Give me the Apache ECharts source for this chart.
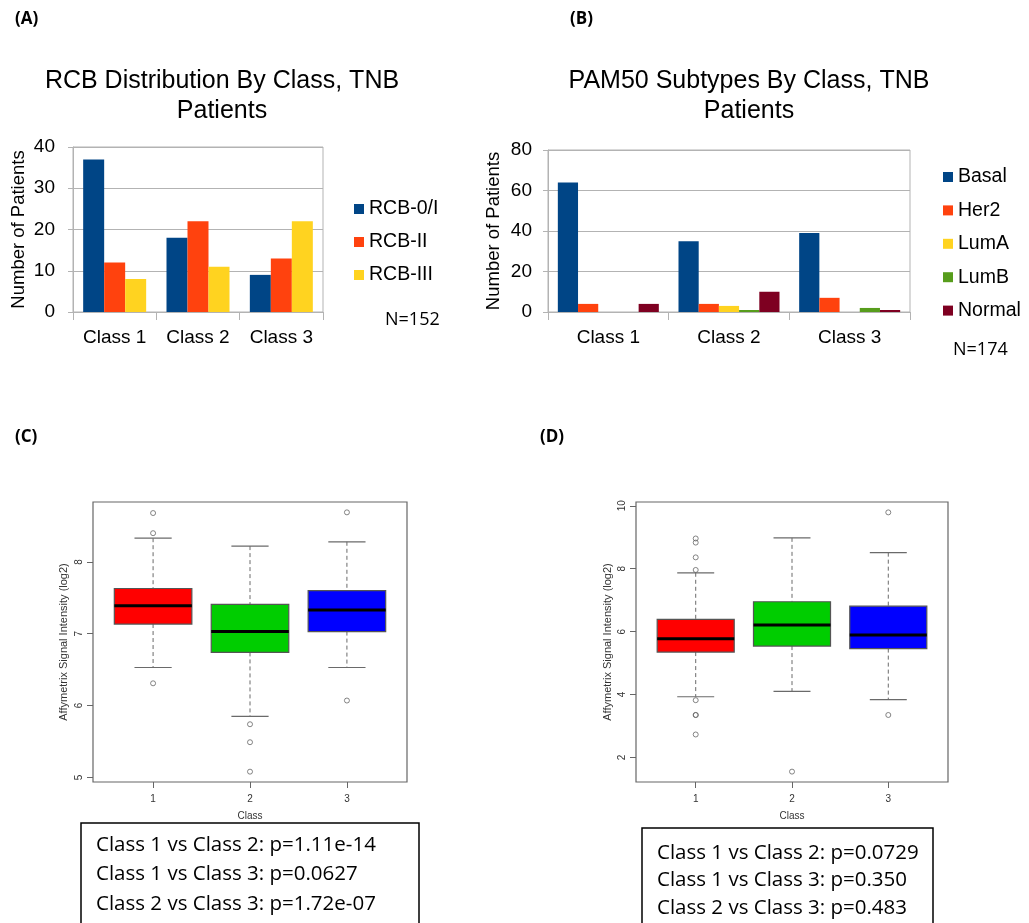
<!DOCTYPE html>
<html>
<head>
<meta charset="utf-8">
<script src="https://cdn.jsdelivr.net/npm/echarts@6/dist/echarts.min.js"></script>
<style>
html,body{margin:0;padding:0;background:#fff;}
#chart{width:1029px;height:923px;}
</style>
</head>
<body>
<div id="chart"></div>
<script>
// ---- Panel A data ----
const aCategories = ['Class 1', 'Class 2', 'Class 3'];
const rcbNames = ['RCB-0/I', 'RCB-II', 'RCB-III'];
const rcb0I = [37, 18, 9];
const rcbII = [12, 22, 13];
const rcbIII = [8, 11, 22];

// ---- Panel B data ----
const bCategories = ['Class 1', 'Class 2', 'Class 3'];
const pamNames = ['Basal', 'Her2', 'LumA', 'LumB', 'Normal'];
const basal = [64, 35, 39];
const her2 = [4, 4, 7];
const lumA = [0, 3, 0];
const lumB = [0, 1, 2];
const normal = [4, 10, 1];

// ---- Panel C data (box plot summary per class) ----
const boxClasses = [1, 2, 3];
const cLower = [6.53, 5.85, 6.53];
const cQ1 = [7.135, 6.74, 7.03];
const cMedian = [7.39, 7.03, 7.33];
const cQ3 = [7.63, 7.41, 7.60];
const cUpper = [8.33, 8.22, 8.28];
const cOutlierClass = [1, 1, 1, 2, 2, 2, 3, 3];
const cOutlierValue = [8.68, 8.40, 6.31, 5.74, 5.49, 5.08, 8.69, 6.07];
const cTicks = [5, 6, 7, 8];

// ---- Panel D data ----
const dLower = [3.93, 4.10, 3.84];
const dQ1 = [5.35, 5.54, 5.46];
const dMedian = [5.77, 6.21, 5.89];
const dQ3 = [6.39, 6.95, 6.81];
const dUpper = [7.87, 8.98, 8.51];
const dOutlierClass = [1, 1, 1, 1, 1, 1, 1, 1, 2, 3, 3];
const dOutlierValue = [8.96, 8.83, 8.36, 7.96, 3.82, 3.35, 3.35, 2.73, 1.55, 9.79, 3.35];
const dTicks = [2, 4, 6, 8, 10];
const boxTicks = [1, 2, 3];

// ---- texts ----
const titleA = 'RCB Distribution By Class, TNB\nPatients';
const titleB = 'PAM50 Subtypes By Class, TNB\nPatients';
const pTextC = ['Class 1 vs Class 2: p=1.11e-14', 'Class 1 vs Class 3: p=0.0627', 'Class 2 vs Class 3: p=1.72e-07'];
const pTextD = ['Class 1 vs Class 2: p=0.0729', 'Class 1 vs Class 3: p=0.350', 'Class 2 vs Class 3: p=0.483'];

const lo = ['#004586', '#ff420e', '#ffd320', '#579d1c', '#7e0021'];
const boxColors = ['#ff0000', '#00cd00', '#0000ff'];
const SANS = '"Liberation Sans", Arial, sans-serif';
const CAL = '"Open Sans", sans-serif';
const RFONT = '"Liberation Sans", Arial, sans-serif';

function zip(cls, vals) { return cls.map((c, i) => [c, vals[i]]); }
function boxData(l, q1, m, q3, u) { return boxClasses.map((c, i) => [c, l[i], q1[i], m[i], q3[i], u[i]]); }

function boxRender(params, api) {
  const x = api.value(0);
  const pl = api.coord([x, api.value(1)]);
  const p1 = api.coord([x, api.value(2)]);
  const pm = api.coord([x, api.value(3)]);
  const p3 = api.coord([x, api.value(4)]);
  const pu = api.coord([x, api.value(5)]);
  const bw = api.size([0.8, 0])[0];
  const cw = bw * 0.48;
  const cx = pl[0];
  const dash = { stroke: '#6a6a6a', lineWidth: 1, lineDash: [4, 3] };
  const solid = { stroke: '#6a6a6a', lineWidth: 1.2 };
  return {
    type: 'group',
    children: [
      { type: 'line', shape: { x1: cx, y1: pu[1], x2: cx, y2: p3[1] }, style: dash },
      { type: 'line', shape: { x1: cx, y1: p1[1], x2: cx, y2: pl[1] }, style: dash },
      { type: 'line', shape: { x1: cx - cw / 2, y1: pu[1], x2: cx + cw / 2, y2: pu[1] }, style: solid },
      { type: 'line', shape: { x1: cx - cw / 2, y1: pl[1], x2: cx + cw / 2, y2: pl[1] }, style: solid },
      { type: 'rect', shape: { x: cx - bw / 2, y: p3[1], width: bw, height: p1[1] - p3[1] },
        style: { fill: boxColors[params.dataIndex], stroke: '#555', lineWidth: 1.2 } },
      { type: 'line', shape: { x1: cx - bw / 2, y1: pm[1], x2: cx + bw / 2, y2: pm[1] },
        style: { stroke: '#000', lineWidth: 3 } }
    ]
  };
}

const barAxisLabel = { color: '#000', fontSize: 19, fontFamily: SANS };
const gray = '#b3b3b3';

function barX(idx, cats) {
  return {
    type: 'category', gridIndex: idx, data: cats,
    axisLine: { lineStyle: { color: gray } },
    axisTick: { show: true, length: 8, lineStyle: { color: gray } },
    axisLabel: Object.assign({ margin: 16 }, barAxisLabel)
  };
}
function barY(idx, max, interval, gap, margin) {
  return {
    type: 'value', gridIndex: idx, min: 0, max: max, interval: interval,
    name: 'Number of Patients', nameLocation: 'middle', nameGap: gap,
    nameTextStyle: { color: '#000', fontSize: 18.5, fontFamily: SANS },
    axisLine: { show: true, lineStyle: { color: gray } },
    axisTick: { show: true, length: 5, lineStyle: { color: gray } },
    axisLabel: Object.assign({ margin: margin }, barAxisLabel),
    splitLine: { show: true, lineStyle: { color: gray } }
  };
}
function boxX(idx) {
  return {
    type: 'value', gridIndex: idx, min: 0.38, max: 3.62,
    name: 'Class', nameLocation: 'middle', nameGap: 29,
    nameTextStyle: { color: '#333', fontSize: 10, fontFamily: RFONT },
    axisLine: { show: false },
    axisTick: { show: true, length: 6, customValues: boxTicks, lineStyle: { color: '#666' } },
    axisLabel: { customValues: boxTicks, margin: 12, color: '#333', fontSize: 10, fontFamily: RFONT },
    splitLine: { show: false }
  };
}
function boxY(idx, min, max, ticks, gap) {
  return {
    type: 'value', gridIndex: idx, min: min, max: max,
    name: 'Affymetrix Signal Intensity (log2)', nameLocation: 'middle', nameGap: gap,
    nameTextStyle: { color: '#333', fontSize: 11, fontFamily: RFONT },
    axisLine: { show: false },
    axisTick: { show: true, length: 6, customValues: ticks, lineStyle: { color: '#666' } },
    axisLabel: { customValues: ticks, rotate: 90, margin: 9, color: '#333', fontSize: 10, fontFamily: RFONT },
    splitLine: { show: false }
  };
}

function txt(x, y, text, font, extra) {
  return { type: 'text', x: x, y: y, silent: true,
    style: Object.assign({ text: text, font: font, fill: '#000', textVerticalAlign: 'middle' }, extra || {}) };
}

const graphics = [
  txt(15, 19, '(A)', 'bold 17px ' + CAL),
  txt(570, 19, '(B)', 'bold 17px ' + CAL),
  txt(15, 437, '(C)', 'bold 17px ' + CAL),
  txt(540, 437, '(D)', 'bold 17px ' + CAL),
  { type: 'text', x: 222, y: 96, silent: true,
    style: { text: titleA, font: '25px ' + SANS, lineHeight: 30, fill: '#000', textAlign: 'center', textVerticalAlign: 'middle' } },
  { type: 'text', x: 749, y: 96, silent: true,
    style: { text: titleB, font: '25px ' + SANS, lineHeight: 30, fill: '#000', textAlign: 'center', textVerticalAlign: 'middle' } },
  txt(385, 320, 'N=152', '18px ' + CAL),
  txt(953, 350, 'N=174', '18px ' + CAL),
  { type: 'rect', silent: true, shape: { x: 81, y: 823, width: 338, height: 130 },
    style: { fill: '#fff', stroke: '#000', lineWidth: 1.5 } },
  { type: 'rect', silent: true, shape: { x: 642, y: 828, width: 291, height: 130 },
    style: { fill: '#fff', stroke: '#000', lineWidth: 1.5 } }
];
pTextC.forEach((t, i) => graphics.push(txt(96, 845 + i * 29.5, t, '20.5px ' + CAL)));
pTextD.forEach((t, i) => graphics.push(txt(657, 853 + i * 27.5, t, '20.5px ' + CAL)));

const chart = echarts.init(document.getElementById('chart'), null, { renderer: 'canvas' });
chart.setOption({
  animation: false,
  backgroundColor: '#fff',
  textStyle: { fontFamily: SANS },
  legend: [
    { data: rcbNames, orient: 'vertical', left: 354, top: 199, padding: 0, icon: 'rect', itemWidth: 10, itemHeight: 10,
      itemGap: 13, textStyle: { fontSize: 19.5, color: '#000', fontFamily: SANS }, selectedMode: false },
    { data: pamNames, orient: 'vertical', left: 943, top: 167, padding: 0, icon: 'rect', itemWidth: 10, itemHeight: 10,
      itemGap: 13.4, textStyle: { fontSize: 19.5, color: '#000', fontFamily: SANS }, selectedMode: false }
  ],
  grid: [
    { left: 73, top: 147, width: 250, height: 165, show: true, borderColor: gray, borderWidth: 1 },
    { left: 548, top: 150, width: 362, height: 162, show: true, borderColor: gray, borderWidth: 1 },
    { left: 93, top: 502, width: 314, height: 280, show: true, borderColor: '#666', borderWidth: 1.2 },
    { left: 636, top: 502, width: 312, height: 280, show: true, borderColor: '#666', borderWidth: 1.2 }
  ],
  xAxis: [barX(0, aCategories), barX(1, bCategories), boxX(2), boxX(3)],
  yAxis: [barY(0, 40, 10, 45, 18), barY(1, 80, 20, 44.5, 16),
          boxY(2, 4.936, 8.834, cTicks, 24), boxY(3, 1.22, 10.12, dTicks, 23)],
  series: [
    { name: rcbNames[0], type: 'bar', xAxisIndex: 0, yAxisIndex: 0, data: rcb0I, itemStyle: { color: lo[0] }, barGap: '0%', barCategoryGap: '24.4%' },
    { name: rcbNames[1], type: 'bar', xAxisIndex: 0, yAxisIndex: 0, data: rcbII, itemStyle: { color: lo[1] }, barGap: '0%', barCategoryGap: '24.4%' },
    { name: rcbNames[2], type: 'bar', xAxisIndex: 0, yAxisIndex: 0, data: rcbIII, itemStyle: { color: lo[2] }, barGap: '0%', barCategoryGap: '24.4%' },
    { name: pamNames[0], type: 'bar', xAxisIndex: 1, yAxisIndex: 1, data: basal, itemStyle: { color: lo[0] }, barGap: '0%', barCategoryGap: '16.3%' },
    { name: pamNames[1], type: 'bar', xAxisIndex: 1, yAxisIndex: 1, data: her2, itemStyle: { color: lo[1] }, barGap: '0%', barCategoryGap: '16.3%' },
    { name: pamNames[2], type: 'bar', xAxisIndex: 1, yAxisIndex: 1, data: lumA, itemStyle: { color: lo[2] }, barGap: '0%', barCategoryGap: '16.3%' },
    { name: pamNames[3], type: 'bar', xAxisIndex: 1, yAxisIndex: 1, data: lumB, itemStyle: { color: lo[3] }, barGap: '0%', barCategoryGap: '16.3%' },
    { name: pamNames[4], type: 'bar', xAxisIndex: 1, yAxisIndex: 1, data: normal, itemStyle: { color: lo[4] }, barGap: '0%', barCategoryGap: '16.3%' },
    { name: 'boxC', type: 'custom', xAxisIndex: 2, yAxisIndex: 2, renderItem: boxRender,
      encode: { x: 0, y: [1, 2, 3, 4, 5] }, data: boxData(cLower, cQ1, cMedian, cQ3, cUpper) },
    { name: 'outC', type: 'scatter', xAxisIndex: 2, yAxisIndex: 2, symbol: 'circle', symbolSize: 5,
      itemStyle: { color: 'rgba(0,0,0,0)', borderColor: '#666', borderWidth: 1 }, data: zip(cOutlierClass, cOutlierValue) },
    { name: 'boxD', type: 'custom', xAxisIndex: 3, yAxisIndex: 3, renderItem: boxRender,
      encode: { x: 0, y: [1, 2, 3, 4, 5] }, data: boxData(dLower, dQ1, dMedian, dQ3, dUpper) },
    { name: 'outD', type: 'scatter', xAxisIndex: 3, yAxisIndex: 3, symbol: 'circle', symbolSize: 5,
      itemStyle: { color: 'rgba(0,0,0,0)', borderColor: '#666', borderWidth: 1 }, data: zip(dOutlierClass, dOutlierValue) }
  ],
  graphic: graphics
});
</script>
</body>
</html>
